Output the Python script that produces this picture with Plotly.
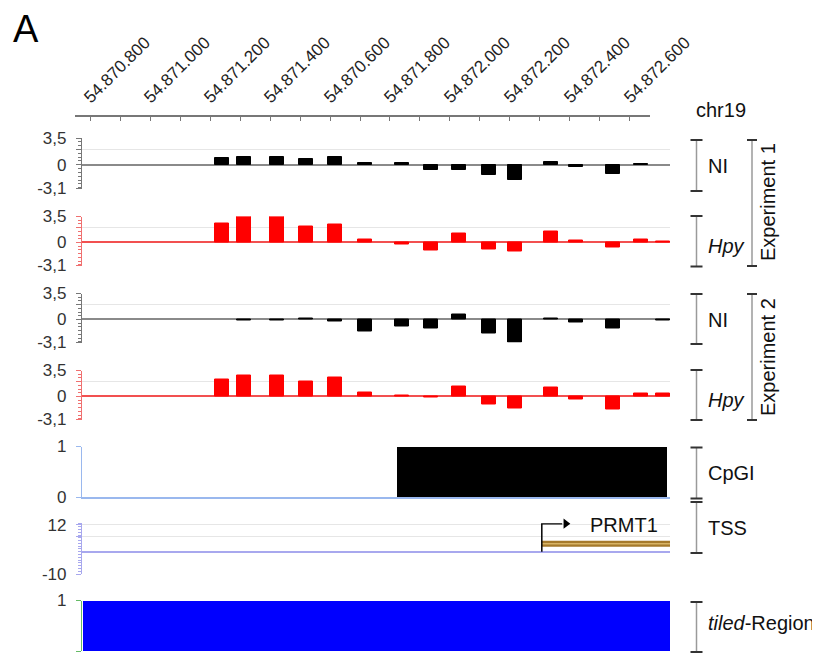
import plotly.graph_objects as go

# The page body has an 8px margin; lay out in reference pixel coordinates and compensate.
OFF = 8
W, H = 820 - OFF, 655 - OFF
FONT = "Arial, Liberation Sans, sans-serif"

# ---------------- data ----------------
ruler_ticks = [54870800, 54871000, 54871200, 54871400, 54871600,
               54871800, 54872000, 54872200, 54872400, 54872600]
ruler_labels = ["54.870.800", "54.871.000", "54.871.200", "54.871.400", "54.870.600",
                "54.871.800", "54.872.000", "54.872.200", "54.872.400", "54.872.600"]

probe_pos = [54871240, 54871313, 54871423, 54871520, 54871617, 54871717, 54871840, 54871937,
             54872030, 54872130, 54872217, 54872337, 54872420, 54872543, 54872637, 54872710]

ni_exp1 = [0.88, 1.06, 1.06, 0.80, 1.06, 0.25, 0.25, -0.70,
           -0.70, -1.40, -2.00, 0.30, -0.25, -1.15, 0.10, None]
hpy_exp1 = [2.50, 3.50, 3.47, 2.10, 2.37, 0.45, -0.30, -1.05,
            1.15, -0.95, -1.23, 1.45, 0.30, -0.73, 0.45, 0.15]
ni_exp2 = [None, -0.10, -0.10, 0.10, -0.30, -1.64, -0.90, -1.23,
           0.64, -1.83, -3.05, 0.10, -0.36, -1.23, None, -0.20]
hpy_exp2 = [2.24, 2.83, 2.83, 2.00, 2.50, 0.60, 0.15, -0.15,
            1.35, -1.03, -1.66, 1.17, -0.45, -1.75, 0.36, 0.36]

cpgi_start, cpgi_end = 54871823, 54872723
tss_pos = 54872306
arrow_len = 68
arrow_head = 80
gene_end = 54872740
gene_level = 3.6
arrow_level = 12.6
tiled_start, tiled_end = 54870778, 54872733

track_range = [54870773.3, 54872733.3]
ruler_range = [54870750, 54872666.7]

# ---------------- layout geometry (reference pixels) ----------------
def px(x):
    return (x - OFF) / W

def py(y):
    return 1 - (y - OFF) / H

track_px = [(138, 188.5), (216.5, 265.5), (293.5, 342.5), (370.5, 419.5),
            (446.5, 497), (523.2, 574), (600.5, 651)]
xdom = [px(82), px(670)]

fig = go.Figure()

# bar tracks
bar_tracks = [(ni_exp1, "#000000"), (hpy_exp1, "#ff0000"),
              (ni_exp2, "#000000"), (hpy_exp2, "#ff0000")]
for i, (vals, col) in enumerate(bar_tracks, start=1):
    fig.add_trace(go.Bar(x=probe_pos, y=vals, width=45, marker=dict(color=col, line=dict(color=col, width=1)),
                         xaxis=f"x{i}", yaxis=f"y{i}", hoverinfo="x+y"))

# CpGI
fig.add_trace(go.Bar(x=[(cpgi_start + cpgi_end) / 2], y=[1], width=[cpgi_end - cpgi_start],
                     marker=dict(color="#000000", line=dict(width=0)), xaxis="x5", yaxis="y5"))

# TSS track: gene body + TSS arrow
fig.add_trace(go.Scatter(x=[tss_pos, gene_end], y=[gene_level, gene_level], mode="lines",
                         line=dict(color="#a57a2c", width=6), xaxis="x6", yaxis="y6", hoverinfo="skip"))
fig.add_trace(go.Scatter(x=[tss_pos, gene_end], y=[gene_level, gene_level], mode="lines",
                         line=dict(color="#d8b466", width=1.5), xaxis="x6", yaxis="y6", hoverinfo="skip"))
fig.add_trace(go.Scatter(x=[tss_pos, tss_pos, tss_pos + arrow_len], y=[0, arrow_level, arrow_level],
                         mode="lines", line=dict(color="#000000", width=1.5),
                         xaxis="x6", yaxis="y6", hoverinfo="skip"))
fig.add_trace(go.Scatter(x=[tss_pos + arrow_head], y=[arrow_level], mode="markers",
                         marker=dict(symbol="triangle-right", size=9, color="#000000"),
                         xaxis="x6", yaxis="y6", hoverinfo="skip", cliponaxis=False))

# tiled region
fig.add_trace(go.Bar(x=[(tiled_start + tiled_end) / 2], y=[1], width=[tiled_end - tiled_start],
                     marker=dict(color="#0000ff", line=dict(width=0)), xaxis="x7", yaxis="y7"))

# ruler (invisible carrier trace)
fig.add_trace(go.Scatter(x=ruler_ticks, y=[0] * len(ruler_ticks), mode="markers",
                         marker=dict(opacity=0), xaxis="x8", yaxis="y8", hoverinfo="skip"))

layout = dict(template="none", width=W, height=H, margin=dict(l=0, r=0, t=0, b=0, pad=0),
              showlegend=False, paper_bgcolor="white", plot_bgcolor="white", bargap=0,
              font=dict(family=FONT, color="#222"))

ystyles = [
    dict(rng=[-3.1, 3.5], tv=[3.5, 2, 0, -3.1], tt=["3,5", "", "0", "-3,1"], lc="#777777", zc="#8a8a8a", dt=0.5),
    dict(rng=[-3.1, 3.5], tv=[3.5, 2, 0, -3.1], tt=["3,5", "", "0", "-3,1"], lc="#f07070", zc="#f25050", dt=0.5),
    dict(rng=[-3.1, 3.5], tv=[3.5, 2, 0, -3.1], tt=["3,5", "", "0", "-3,1"], lc="#777777", zc="#8a8a8a", dt=0.5),
    dict(rng=[-3.1, 3.5], tv=[3.5, 2, 0, -3.1], tt=["3,5", "", "0", "-3,1"], lc="#f07070", zc="#f25050", dt=0.5),
    dict(rng=[0, 1], tv=[1, 0], tt=["1", "0"], lc="#9ab8ee", zc=None, dt=None),
    dict(rng=[-10, 12.8], tv=[12, 7, -10], tt=["12", "", "-10"], lc="#a8a8ee", zc="#a8a8ee", dt=1.25),
    dict(rng=[0, 1], tv=[1, 0], tt=["1", "0"], lc="#66bb66", zc=None, dt=None),
]

for i, ((top, bot), st) in enumerate(zip(track_px, ystyles), start=1):
    xa = dict(domain=xdom, range=track_range, anchor=f"y{i}", showgrid=False, zeroline=False,
              showticklabels=False, ticks="", showline=False, fixedrange=True, automargin=False)
    if i == 5:
        xa.update(showline=True, linecolor="#9ab8ee", linewidth=1.5)
    layout[f"xaxis{i}"] = xa
    ya = dict(domain=[py(bot), py(top)], range=st["rng"], anchor=f"x{i}", automargin=False,
              tickmode="array", tickvals=st["tv"], ticktext=st["tt"],
              showline=True, linecolor=st["lc"], linewidth=1.2,
              ticks="outside", ticklen=5, tickcolor=st["lc"], tickwidth=1,
              tickfont=dict(size=17, color="#333", family=FONT), ticklabelstandoff=6,
              showgrid=True, gridcolor="#e6e6e6", gridwidth=1, fixedrange=True)
    if st["zc"]:
        ya.update(zeroline=True, zerolinecolor=st["zc"], zerolinewidth=1.5)
    else:
        ya.update(zeroline=False)
    if st["dt"]:
        ya["minor"] = dict(tickmode="linear", tick0=0, dtick=st["dt"], ticks="outside",
                           ticklen=3, tickcolor=st["lc"], showgrid=False)
    layout[f"yaxis{i}"] = ya

# ruler axis
layout["xaxis8"] = dict(domain=[px(75), px(650)], range=ruler_range, anchor="y8", side="top",
                        automargin=False,
                        tickmode="array", tickvals=ruler_ticks, ticktext=ruler_labels,
                        tickangle=-45, tickfont=dict(size=17, color="#222", family=FONT),
                        ticklabelshift=-5, ticklabelstandoff=2,
                        showline=True, linecolor="#777777", linewidth=1.5,
                        ticks="inside", ticklen=4, tickcolor="#777777",
                        minor=dict(tickmode="linear", tick0=54870700, dtick=100, ticks="inside",
                                   ticklen=4, tickcolor="#777777", showgrid=False),
                        showgrid=False, zeroline=False, fixedrange=True)
layout["yaxis8"] = dict(domain=[py(130), py(117)], range=[0, 1], anchor="x8", visible=False,
                        fixedrange=True, automargin=False)

fig.update_layout(**layout)

# gene label
fig.add_annotation(x=tss_pos + 275, y=12, xref="x6", yref="y6", text="PRMT1", showarrow=False,
                   xanchor="center", yanchor="middle", font=dict(size=20, color="#111", family=FONT))

# right-side labels
labels = [("NI", 166), ("<i>Hpy</i>", 246), ("NI", 320), ("<i>Hpy</i>", 400),
          ("CpGI", 473), ("TSS", 528), ("<i>tiled</i>-Region", 623)]
for txt, yy in labels:
    fig.add_annotation(x=px(706), y=py(yy), xref="paper", yref="paper", text=txt, showarrow=False,
                       xanchor="left", yanchor="middle", font=dict(size=20, color="#111", family=FONT))
fig.add_annotation(x=px(694), y=py(110), xref="paper", yref="paper", text="chr19", showarrow=False,
                   xanchor="left", yanchor="middle", font=dict(size=20, color="#111", family=FONT))
for txt, yy in [("Experiment 1", 202), ("Experiment 2", 357)]:
    fig.add_annotation(x=px(768), y=py(yy), xref="paper", yref="paper", text=txt, showarrow=False,
                       textangle=-90, xanchor="center", yanchor="middle",
                       font=dict(size=20, color="#111", family=FONT))
fig.add_annotation(x=px(11), y=py(29), xref="paper", yref="paper", text="A", showarrow=False,
                   xanchor="left", yanchor="middle", font=dict(size=38, color="#000", family=FONT))

# brackets
def bracket(x, y0, y1, cap):
    fig.add_shape(type="line", xref="paper", yref="paper", x0=px(x), x1=px(x), y0=py(y0), y1=py(y1),
                  line=dict(color="#9a9a9a", width=1.5))
    for yy in (y0, y1):
        fig.add_shape(type="line", xref="paper", yref="paper", x0=px(x - cap), x1=px(x + cap),
                      y0=py(yy), y1=py(yy), line=dict(color="#333", width=2))

for y0, y1 in [(140, 191), (216, 266.5), (294, 344), (370, 420), (447.5, 498.5), (502, 553), (602, 652)]:
    bracket(696.5, y0, y1, 6)
for y0, y1 in [(140, 266), (294, 420)]:
    bracket(752, y0, y1, 5)

fig.write_html("out.html")
